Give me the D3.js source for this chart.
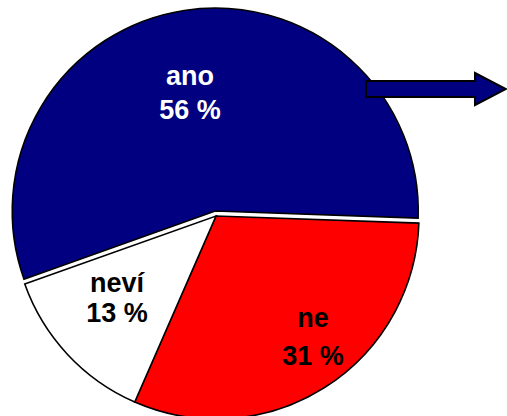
<!DOCTYPE html>
<html>
<head>
<meta charset="utf-8">
<script src="https://cdn.jsdelivr.net/npm/d3@7"></script>
<style>
  html, body { margin: 0; padding: 0; background: #fff; }
  svg { display: block; }
  text { font-family: "Liberation Sans", Arial, sans-serif; font-weight: bold; }
</style>
</head>
<body>
<svg id="chart" width="507" height="416"></svg>
<script>
const categories = ["ano", "ne", "neví"];
const values = [56, 31, 13];
const valueLabels = ["56 %", "31 %", "13 %"];
const colors = ["#000080", "#FF0000", "#FFFFFF"];
const textColors = ["#FFFFFF", "#000000", "#000000"];

const W = 507, H = 416;
const cx = 216, cy = 216, R = 203;
const explode = [5, 0, 0];
// label anchor (center x, first baseline, second baseline) relative to pie center
const labelPos = [
  { x: -26, b1: -131, b2: -97 },
  { x: 97, b1: 111, b2: 149 },
  { x: -99, b1: 76, b2: 106 }
];

const svg = d3.select("#chart");

const startDeg = -109.6;
const pie = d3.pie().sort(null).value(d => d.v)
  .startAngle(startDeg * Math.PI / 180)
  .endAngle((startDeg + 360) * Math.PI / 180);

const data = categories.map((c, i) => ({ c, v: values[i], i }));
const arcs = pie(data);
const arc = d3.arc().innerRadius(0).outerRadius(R);

const g = svg.append("g").attr("transform", `translate(${cx},${cy})`);

g.selectAll("path.slice").data(arcs).enter().append("path")
  .attr("class", "slice")
  .attr("d", arc)
  .attr("transform", d => {
    const a = (d.startAngle + d.endAngle) / 2;
    const e = explode[d.data.i];
    return `translate(${e * Math.sin(a)},${-e * Math.cos(a)})`;
  })
  .attr("fill", d => colors[d.data.i])
  .attr("stroke", "#000")
  .attr("stroke-width", 1.6)
  .attr("stroke-linejoin", "miter");

const labels = g.selectAll("g.lbl").data(arcs).enter().append("g").attr("class", "lbl");
labels.append("text")
  .attr("x", d => labelPos[d.data.i].x)
  .attr("y", d => labelPos[d.data.i].b1)
  .attr("text-anchor", "middle")
  .attr("font-size", 27)
  .attr("fill", d => textColors[d.data.i])
  .text(d => d.data.c);
labels.append("text")
  .attr("x", d => labelPos[d.data.i].x)
  .attr("y", d => labelPos[d.data.i].b2)
  .attr("text-anchor", "middle")
  .attr("font-size", 27)
  .attr("fill", d => textColors[d.data.i])
  .text(d => valueLabels[d.data.i]);

// arrow
const arrow = d3.path();
arrow.moveTo(366, 81);
arrow.lineTo(475, 81);
arrow.lineTo(475, 73);
arrow.lineTo(506, 89);
arrow.lineTo(475, 105);
arrow.lineTo(475, 97);
arrow.lineTo(366, 97);
arrow.closePath();
svg.append("path").attr("d", arrow.toString())
  .attr("fill", "#000080").attr("stroke", "#000").attr("stroke-width", 2)
  .attr("stroke-linejoin", "miter");
</script>
</body>
</html>
